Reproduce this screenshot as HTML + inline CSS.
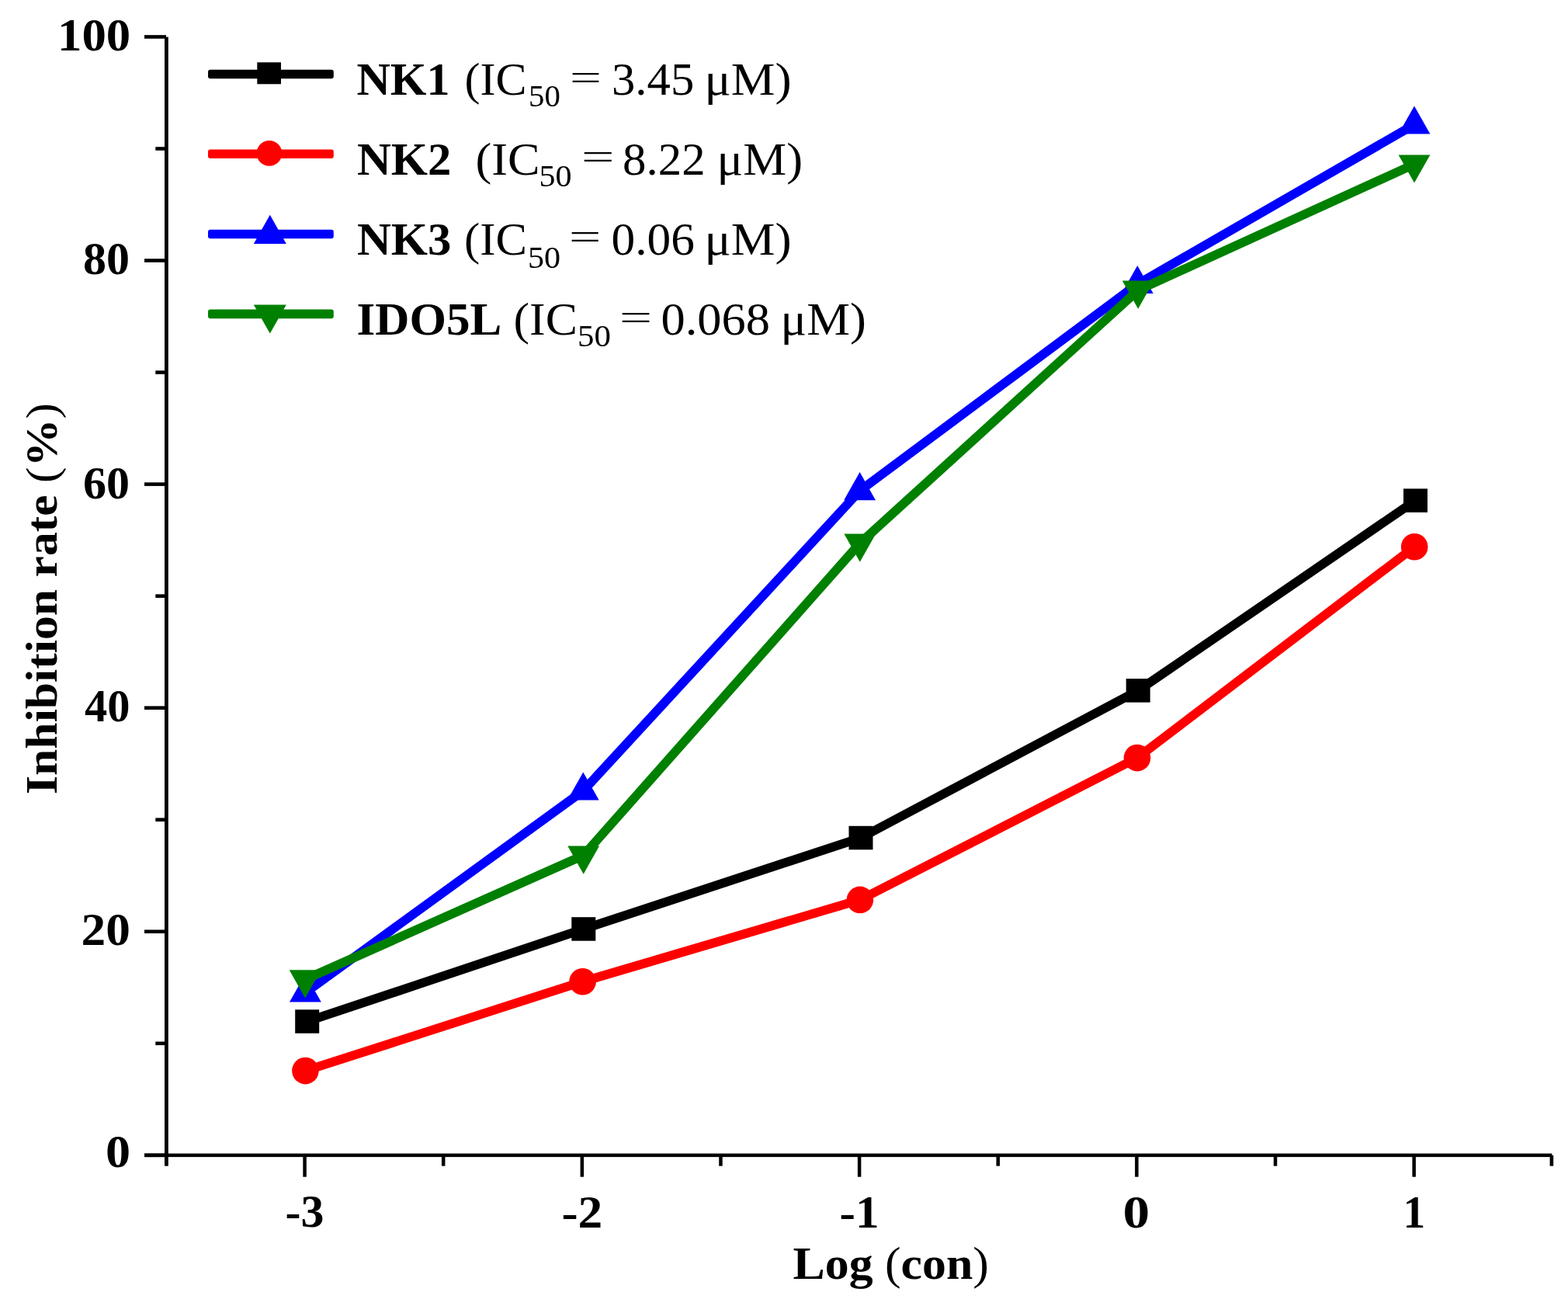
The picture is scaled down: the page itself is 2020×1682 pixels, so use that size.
<!DOCTYPE html>
<html><head><meta charset="utf-8"><title>Inhibition rate chart</title>
<style>html,body{margin:0;padding:0;background:#fff;}svg{display:block;}text{font-family:"Liberation Serif","Times New Roman",serif;fill:#000;}</style></head><body>
<svg width="2020" height="1682" viewBox="0 0 2020 1682">
<rect width="2020" height="1682" fill="#fff"/>
<g fill="#000">
<rect x="212" y="47.6" width="4.8" height="1454.1"/>
<rect x="186" y="1485.6" width="1813.4" height="4.5"/>
<rect x="186" y="1485.55" width="28" height="4.6"/>
<rect x="186" y="1197.47" width="28" height="4.6"/>
<rect x="186" y="909.39" width="28" height="4.6"/>
<rect x="186" y="621.31" width="28" height="4.6"/>
<rect x="186" y="333.23" width="28" height="4.6"/>
<rect x="186" y="45.15" width="28" height="4.6"/>
<rect x="200.3" y="1341.51" width="14" height="4.6"/>
<rect x="200.3" y="1053.43" width="14" height="4.6"/>
<rect x="200.3" y="765.35" width="14" height="4.6"/>
<rect x="200.3" y="477.27" width="14" height="4.6"/>
<rect x="200.3" y="189.19" width="14" height="4.6"/>
<rect x="390.32" y="1487" width="4.5" height="28.7"/>
<rect x="747.59" y="1487" width="4.5" height="28.7"/>
<rect x="1104.86" y="1487" width="4.5" height="28.7"/>
<rect x="1462.13" y="1487" width="4.5" height="28.7"/>
<rect x="1819.40" y="1487" width="4.5" height="28.7"/>
<rect x="568.95" y="1487" width="4.5" height="14.7"/>
<rect x="926.22" y="1487" width="4.5" height="14.7"/>
<rect x="1283.49" y="1487" width="4.5" height="14.7"/>
<rect x="1640.76" y="1487" width="4.5" height="14.7"/>
<rect x="1996.6" y="1487.9" width="4.6" height="13.8"/>
</g>
<text x="74.00" y="65.10" font-size="60" font-weight="bold" textLength="94.30" lengthAdjust="spacingAndGlyphs" xml:space="preserve">100</text>
<text x="107.00" y="353.20" font-size="60" font-weight="bold" xml:space="preserve">80</text>
<text x="107.00" y="641.80" font-size="60" font-weight="bold" xml:space="preserve">60</text>
<text x="109.00" y="929.30" font-size="60" font-weight="bold" textLength="58.45" lengthAdjust="spacingAndGlyphs" xml:space="preserve">40</text>
<text x="104.50" y="1217.20" font-size="60" font-weight="bold" textLength="63.32" lengthAdjust="spacingAndGlyphs" xml:space="preserve">20</text>
<text x="136.00" y="1502.80" font-size="60" font-weight="bold" textLength="32.09" lengthAdjust="spacingAndGlyphs" xml:space="preserve">0</text>
<text x="367.50" y="1580.20" font-size="60" font-weight="bold" textLength="49.88" lengthAdjust="spacingAndGlyphs" xml:space="preserve">-3</text>
<text x="723.50" y="1581.30" font-size="60" font-weight="bold" textLength="52.84" lengthAdjust="spacingAndGlyphs" xml:space="preserve">-2</text>
<text x="1081.50" y="1580.90" font-size="60" font-weight="bold" textLength="50.99" lengthAdjust="spacingAndGlyphs" xml:space="preserve">-1</text>
<text x="1446.50" y="1581.30" font-size="60" font-weight="bold" textLength="34.62" lengthAdjust="spacingAndGlyphs" xml:space="preserve">0</text>
<text x="1807.50" y="1581.20" font-size="60" font-weight="bold" textLength="28.70" lengthAdjust="spacingAndGlyphs" xml:space="preserve">1</text>
<text x="1021.50" y="1647.10" font-size="59" font-weight="bold" textLength="252.46" lengthAdjust="spacingAndGlyphs" xml:space="preserve">Log <tspan font-weight="normal">(</tspan>con<tspan font-weight="normal">)</tspan></text>
<text transform="translate(73.00,1023.00) rotate(-90)" font-size="58" font-weight="bold" textLength="503.96" lengthAdjust="spacingAndGlyphs">Inhibition rate <tspan font-weight="normal">(</tspan>%<tspan font-weight="normal">)</tspan></text>
<g>
<polyline points="395.7,1315.6 751.8,1196.4 1109.0,1079.0 1466.2,889.4 1823.5,644.6" fill="none" stroke="#000000" stroke-width="11.6" stroke-linejoin="round" stroke-linecap="butt"/>
<rect x="380.2" y="1300.3" width="31" height="30.5" fill="#000000"/>
<rect x="736.3" y="1181.2" width="31" height="30.5" fill="#000000"/>
<rect x="1093.5" y="1063.8" width="31" height="30.5" fill="#000000"/>
<rect x="1450.7" y="874.1" width="31" height="30.5" fill="#000000"/>
<rect x="1808.0" y="629.4" width="31" height="30.5" fill="#000000"/>
<polyline points="393.4,1379.1 750.6,1264.2 1107.9,1158.9 1465.0,976.1 1822.2,704.3" fill="none" stroke="#ff0000" stroke-width="11.6" stroke-linejoin="round" stroke-linecap="butt"/>
<circle cx="393.4" cy="1379.1" r="17.3" fill="#ff0000"/>
<circle cx="750.6" cy="1264.2" r="17.3" fill="#ff0000"/>
<circle cx="1107.9" cy="1158.9" r="17.3" fill="#ff0000"/>
<circle cx="1465.0" cy="976.1" r="17.3" fill="#ff0000"/>
<circle cx="1822.2" cy="704.3" r="17.3" fill="#ff0000"/>
<polyline points="393.4,1278.4 751.3,1018.5 1107.6,632.1 1465.3,366.0 1822.0,160.5" fill="none" stroke="#0000ff" stroke-width="11.6" stroke-linejoin="round" stroke-linecap="butt"/>
<polygon points="393.4,1254.3 413.8,1290.5 373.0,1290.5" fill="#0000ff"/>
<polygon points="751.3,994.4 771.7,1030.6 730.9,1030.6" fill="#0000ff"/>
<polygon points="1107.6,608.0 1128.0,644.2 1087.2,644.2" fill="#0000ff"/>
<polygon points="1465.3,341.9 1485.7,378.1 1444.9,378.1" fill="#0000ff"/>
<polygon points="1822.0,136.4 1842.4,172.6 1801.6,172.6" fill="#0000ff"/>
<polyline points="393.1,1261.4 751.7,1101.6 1107.8,699.6 1466.2,373.7 1822.0,211.5" fill="none" stroke="#008000" stroke-width="11.6" stroke-linejoin="round" stroke-linecap="butt"/>
<polygon points="372.7,1249.3 413.5,1249.3 393.1,1285.5" fill="#008000"/>
<polygon points="731.3,1089.5 772.1,1089.5 751.7,1125.7" fill="#008000"/>
<polygon points="1087.4,687.5 1128.2,687.5 1107.8,723.7" fill="#008000"/>
<polygon points="1445.8,361.6 1486.6,361.6 1466.2,397.8" fill="#008000"/>
<polygon points="1801.6,199.4 1842.4,199.4 1822.0,235.6" fill="#008000"/>
</g>
<g>
<rect x="268" y="89.7" width="161.8" height="11.6" rx="3" fill="#000000"/>
<rect x="331.3" y="80.3" width="30.7" height="28" fill="#000000"/>
<rect x="268" y="192.4" width="161.8" height="11.6" rx="3" fill="#ff0000"/>
<circle cx="346.9" cy="197.4" r="16.3" fill="#ff0000"/>
<rect x="268" y="295.7" width="161.8" height="11.6" rx="3" fill="#0000ff"/>
<polygon points="347.8,276.7 368.8,313.9 326.8,313.9" fill="#0000ff"/>
<rect x="268" y="398.6" width="161.8" height="11.6" rx="3" fill="#008000"/>
<polygon points="326.8,392.4 368.8,392.4 347.8,429.6" fill="#008000"/>
</g>
<g><text x="459.50" y="122.20" font-size="60" font-weight="bold" textLength="120.11" lengthAdjust="spacingAndGlyphs" xml:space="preserve">NK1</text><text x="598.50" y="122.20" font-size="60" xml:space="preserve">(IC</text><text x="681.00" y="137.10" font-size="41" textLength="40.81" lengthAdjust="spacingAndGlyphs" xml:space="preserve">50</text><text x="734.00" y="115.40" font-size="47" textLength="40.95" lengthAdjust="spacingAndGlyphs" xml:space="preserve">=</text><text x="788.00" y="122.20" font-size="60" textLength="106.25" lengthAdjust="spacingAndGlyphs" xml:space="preserve">3.45</text><text x="907.50" y="122.20" font-size="60" textLength="112.21" lengthAdjust="spacingAndGlyphs" xml:space="preserve">μM)</text></g>
<g><text x="460.00" y="225.00" font-size="60" font-weight="bold" textLength="121.45" lengthAdjust="spacingAndGlyphs" xml:space="preserve">NK2</text><text x="612.50" y="225.00" font-size="60" textLength="83.08" lengthAdjust="spacingAndGlyphs" xml:space="preserve">(IC</text><text x="694.50" y="240.40" font-size="41" textLength="42.08" lengthAdjust="spacingAndGlyphs" xml:space="preserve">50</text><text x="749.00" y="217.40" font-size="47" textLength="42.46" lengthAdjust="spacingAndGlyphs" xml:space="preserve">=</text><text x="802.00" y="225.00" font-size="60" textLength="106.58" lengthAdjust="spacingAndGlyphs" xml:space="preserve">8.22</text><text x="923.50" y="225.00" font-size="60" textLength="110.62" lengthAdjust="spacingAndGlyphs" xml:space="preserve">μM)</text></g>
<g><text x="460.00" y="328.00" font-size="60" font-weight="bold" textLength="121.43" lengthAdjust="spacingAndGlyphs" xml:space="preserve">NK3</text><text x="598.00" y="328.00" font-size="60" textLength="80.95" lengthAdjust="spacingAndGlyphs" xml:space="preserve">(IC</text><text x="680.00" y="344.60" font-size="41" textLength="42.11" lengthAdjust="spacingAndGlyphs" xml:space="preserve">50</text><text x="733.00" y="320.40" font-size="47" textLength="41.30" lengthAdjust="spacingAndGlyphs" xml:space="preserve">=</text><text x="787.50" y="328.00" font-size="60" textLength="107.51" lengthAdjust="spacingAndGlyphs" xml:space="preserve">0.06</text><text x="907.50" y="328.00" font-size="60" textLength="112.21" lengthAdjust="spacingAndGlyphs" xml:space="preserve">μM)</text></g>
<g><text x="459.50" y="431.20" font-size="60" font-weight="bold" textLength="186.86" lengthAdjust="spacingAndGlyphs" xml:space="preserve">IDO5L</text><text x="661.50" y="431.20" font-size="60" textLength="82.33" lengthAdjust="spacingAndGlyphs" xml:space="preserve">(IC</text><text x="744.00" y="446.10" font-size="41" textLength="42.95" lengthAdjust="spacingAndGlyphs" xml:space="preserve">50</text><text x="798.00" y="424.40" font-size="47" textLength="42.08" lengthAdjust="spacingAndGlyphs" xml:space="preserve">=</text><text x="851.50" y="431.20" font-size="60" textLength="140.57" lengthAdjust="spacingAndGlyphs" xml:space="preserve">0.068</text><text x="1005.50" y="431.20" font-size="60" textLength="110.30" lengthAdjust="spacingAndGlyphs" xml:space="preserve">μM)</text></g>
</svg>
</body></html>
